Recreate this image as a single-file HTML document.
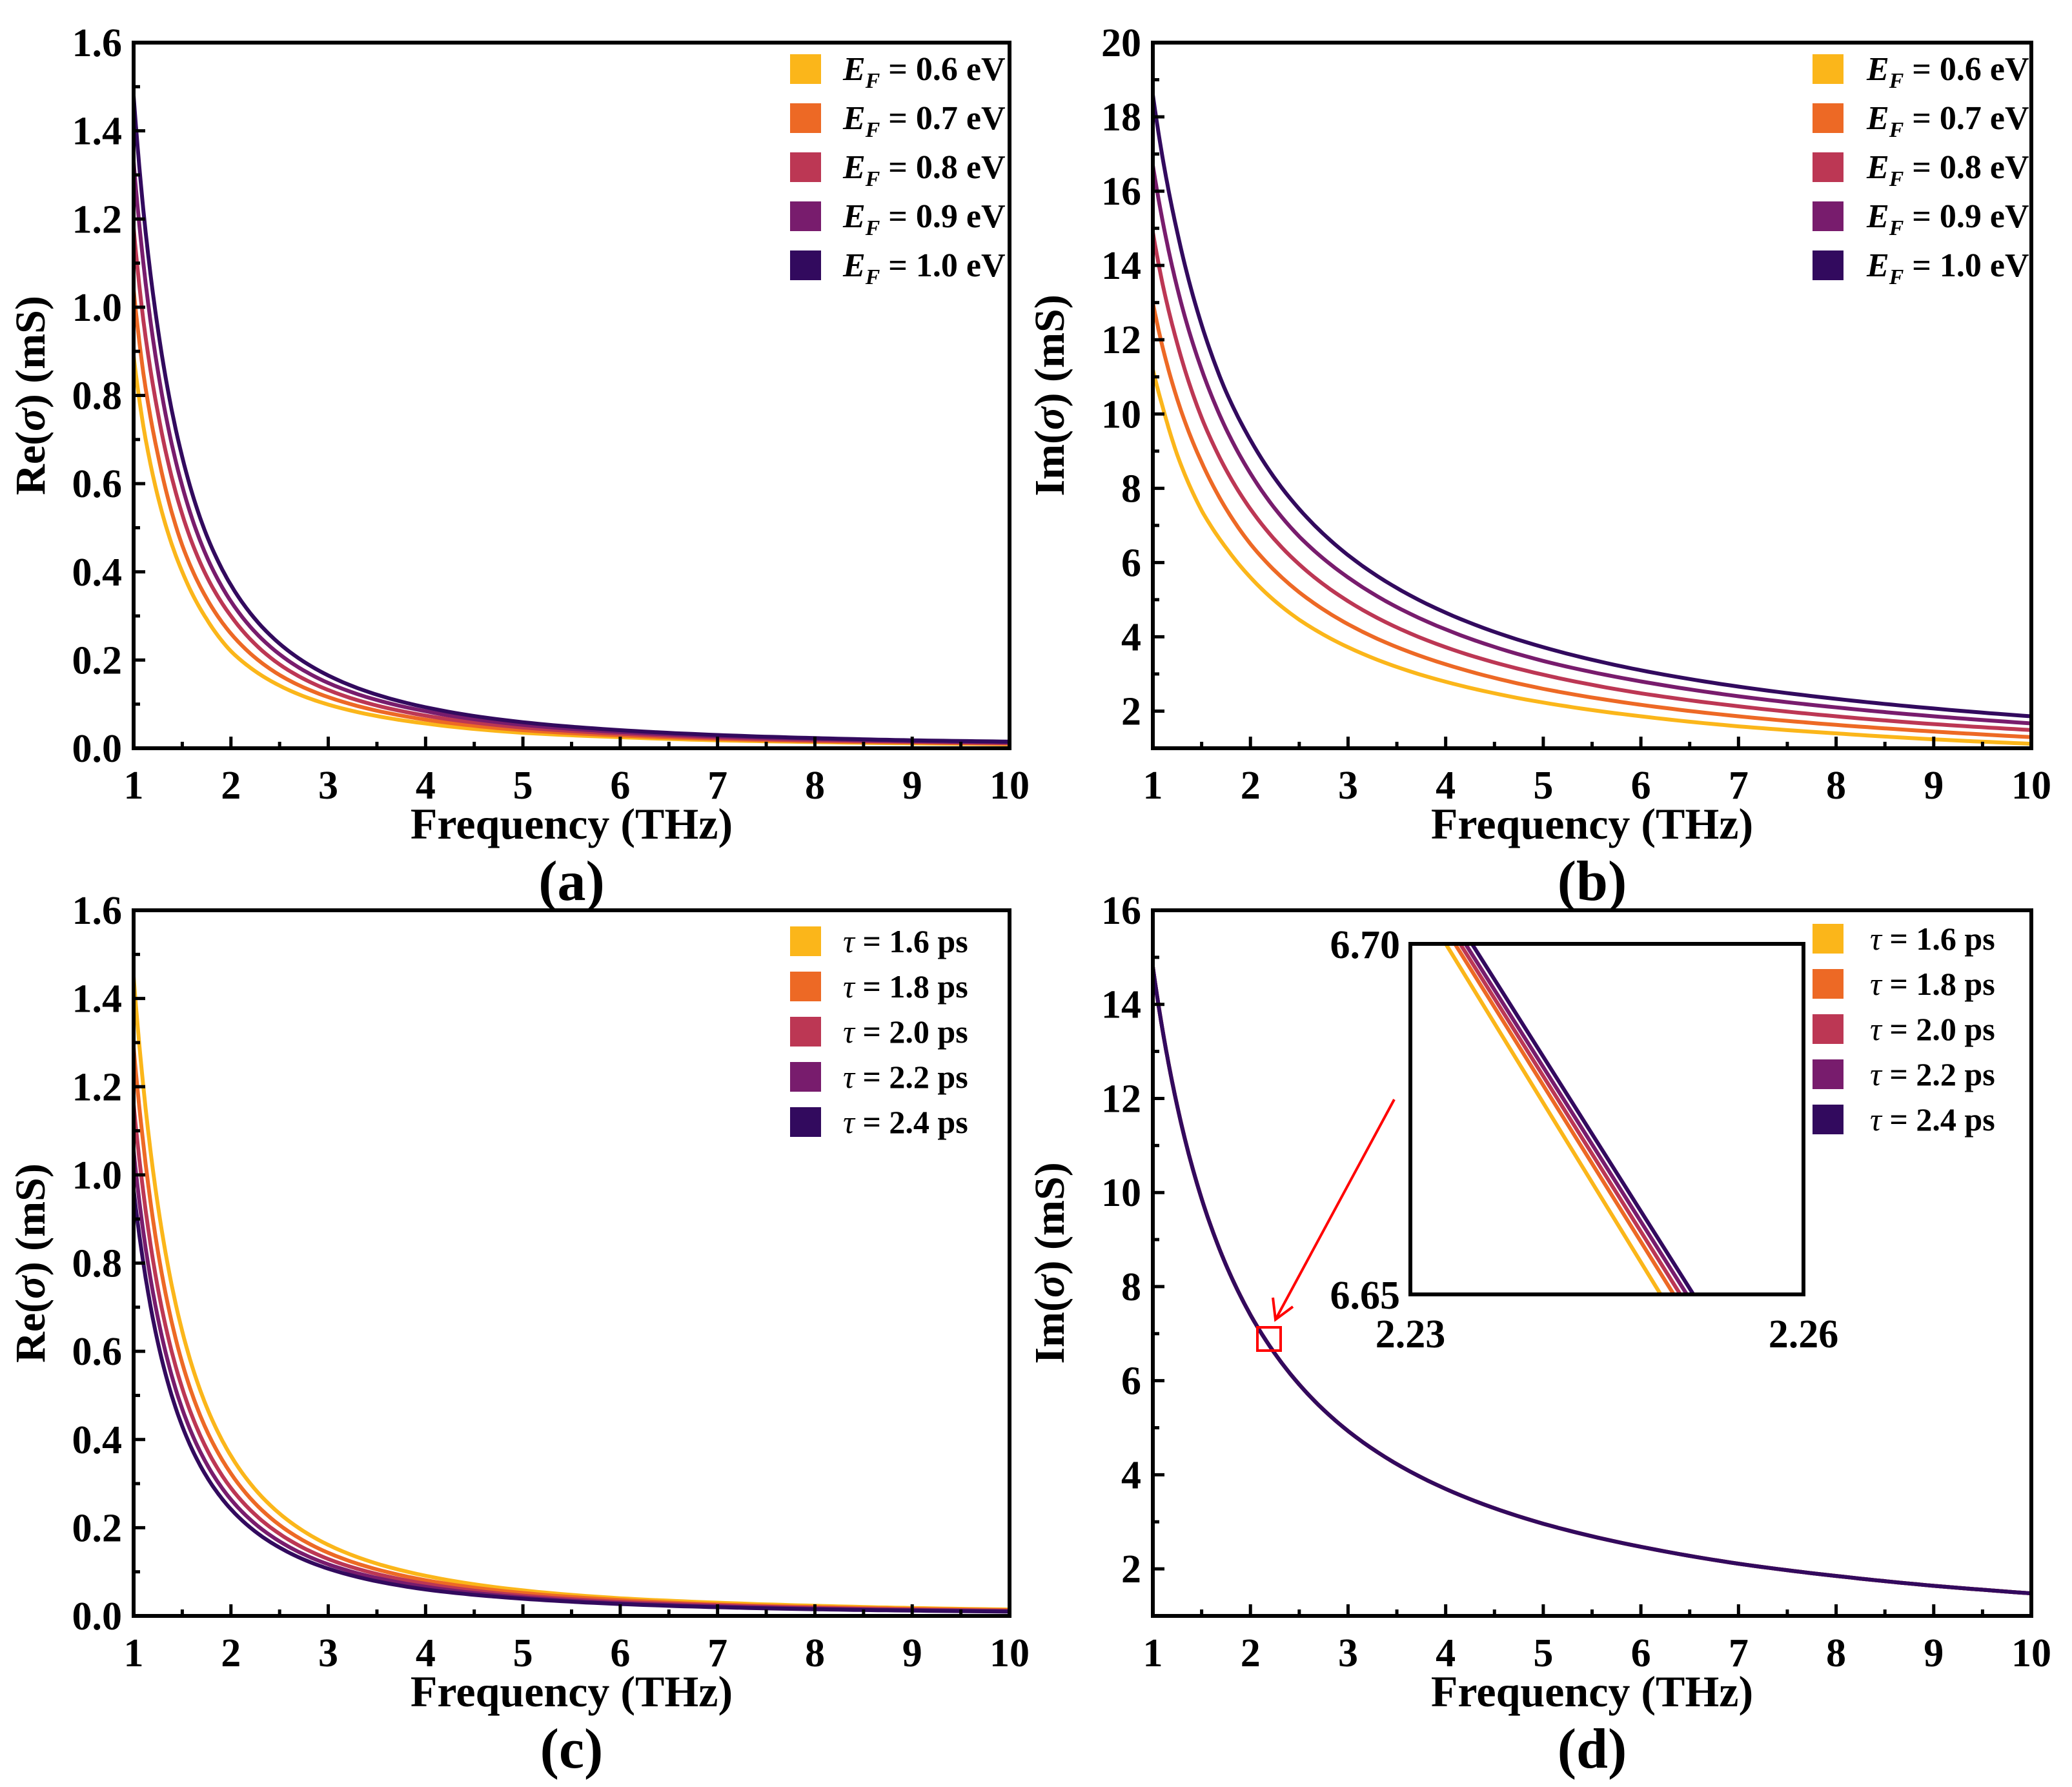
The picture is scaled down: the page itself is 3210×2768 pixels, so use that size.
<!DOCTYPE html>
<html><head><meta charset="utf-8"><style>
html,body{margin:0;padding:0;background:#fff}
svg{display:block;font-family:"Liberation Serif",serif;font-weight:bold}
</style></head><body>
<svg id="fig" width="3210" height="2768" viewBox="0 0 3210 2768" xmlns="http://www.w3.org/2000/svg"></svg>
<script>
const colors=['#FBB61A','#ED6925','#BC3754','#781C6D','#320A5E'];
const freq=[1,1.1,1.25,1.5,1.75,2,2.5,3,4,5,6,7,8,9,10];
const xTickLabels=['1','2','3','4','5','6','7','8','9','10'];
const efLabels=['0.6','0.7','0.8','0.9','1.0'];
const tauLabels=['1.6','1.8','2.0','2.2','2.4'];
const reEF06=[0.89,0.73,0.57,0.40,0.293,0.22,0.142,0.099,0.056,0.035,0.025,0.018,0.014,0.011,0.009];
const reEF07=[1.04,0.85,0.665,0.46,0.34,0.26,0.166,0.116,0.065,0.041,0.029,0.021,0.016,0.013,0.010];
const reEF08=[1.18,0.97,0.76,0.53,0.39,0.30,0.19,0.132,0.074,0.047,0.033,0.024,0.018,0.015,0.012];
const reEF09=[1.33,1.10,0.855,0.594,0.435,0.333,0.213,0.148,0.084,0.053,0.037,0.027,0.021,0.016,0.013];
const reEF10=[1.48,1.22,0.95,0.66,0.483,0.37,0.237,0.165,0.093,0.059,0.041,0.030,0.023,0.018,0.015];
const imEF06=[11.2,10.2,8.9,7.4,6.4,5.6,4.46,3.72,2.79,2.23,1.86,1.59,1.40,1.24,1.12];
const imEF07=[13.0,11.8,10.4,8.7,7.45,6.5,5.2,4.34,3.26,2.6,2.17,1.86,1.63,1.45,1.30];
const imEF08=[14.9,13.5,11.9,9.9,8.5,7.44,5.95,4.96,3.72,2.98,2.48,2.13,1.86,1.65,1.49];
const imEF09=[16.7,15.2,13.4,11.2,9.6,8.4,6.7,5.6,4.2,3.35,2.8,2.4,2.1,1.86,1.67];
const imEF10=[18.6,16.9,14.9,12.4,10.6,9.3,7.44,6.2,4.65,3.72,3.1,2.66,2.33,2.07,1.86];
const reTau16=[1.45,1.20,0.93,0.645,0.474,0.363,0.232,0.161,0.091,0.058,0.040,0.030,0.023,0.018,0.0145];
const reTau18=[1.29,1.07,0.826,0.573,0.421,0.323,0.206,0.143,0.081,0.052,0.036,0.026,0.020,0.016,0.0129];
const reTau20=[1.16,0.96,0.742,0.516,0.379,0.29,0.186,0.129,0.073,0.046,0.032,0.024,0.018,0.014,0.0116];
const reTau22=[1.055,0.87,0.675,0.469,0.345,0.264,0.169,0.117,0.066,0.042,0.029,0.0215,0.0165,0.013,0.0106];
const reTau24=[0.967,0.80,0.619,0.43,0.316,0.242,0.155,0.107,0.060,0.039,0.027,0.0197,0.015,0.012,0.0097];
const imTauAll=[14.8,13.45,11.84,9.87,8.46,7.4,5.92,4.93,3.7,2.96,2.47,2.11,1.85,1.64,1.48];
const insetXTop=[2.2327,2.2334,2.2338,2.2342,2.2347];
const insetXBottom=[2.2491,2.2501,2.2506,2.2511,2.2516];

const NS='http://www.w3.org/2000/svg';
const svg=document.getElementById('fig');
function mk(tag,attrs,parent){const e=document.createElementNS(NS,tag);for(const k in attrs)e.setAttribute(k,attrs[k]);(parent||svg).appendChild(e);return e;}
// log-log interpolation between data points gives smooth power-law segments
function curvePath(xs,ys,sx,sy){let d='';
 for(let i=0;i<xs.length-1;i++){const lx0=Math.log(xs[i]),lx1=Math.log(xs[i+1]),ly0=Math.log(ys[i]),ly1=Math.log(ys[i+1]);
  for(let k=(i===0?0:1);k<=12;k++){const t=k/12;const x=Math.exp(lx0+(lx1-lx0)*t),y=Math.exp(ly0+(ly1-ly0)*t);
   d+=(d?' L':'M')+sx(x).toFixed(1)+','+sy(y).toFixed(1);}}
 return d;}

function panel(cfg){
 const g=mk('g',{});
 
 
 const {L,R,T,B,ymin,ymax}=cfg;
 const sx=v=>L+(v-1)/9*(R-L), sy=v=>B-(v-ymin)/(ymax-ymin)*(B-T);
 const cid='clip-'+cfg.name;
 const cp=mk('clipPath',{id:cid},g);mk('rect',{x:L,y:T,width:R-L,height:B-T},cp);
 const cg=mk('g',{'clip-path':'url(#'+cid+')'},g);
 cfg.series.forEach((s,i)=>{
  const p=mk('path',{d:curvePath(freq,s,sx,sy),fill:'none',stroke:colors[i],'stroke-width':6,'stroke-linejoin':'round'},cg);
  
  
 });
 const tg=mk('g',{stroke:'#000','stroke-width':5},g);
 for(let v=1;v<=10.001;v+=0.5){const major=Math.abs(v-Math.round(v))<1e-6;mk('line',{x1:sx(v),x2:sx(v),y1:B,y2:B-(major?18:10)},tg);}
 for(let k=0;;k++){const v=ymin+k*cfg.minor; if(v>ymax+1e-9)break; const major=Math.abs(((v-cfg.ystart)/cfg.ystep)-Math.round((v-cfg.ystart)/cfg.ystep))<1e-6; mk('line',{x1:L,x2:L+(major?18:10),y1:sy(v),y2:sy(v)},tg);}
 const ax=mk('rect',{x:L,y:T,width:R-L,height:B-T,fill:'none',stroke:'#000','stroke-width':6},g);
 
 
 xTickLabels.forEach((t,i)=>{const e=mk('text',{x:sx(i+1),y:B+78,'font-size':62,'text-anchor':'middle'},g);e.textContent=t;
  
  });
 cfg.yTicks.forEach(t=>{const e=mk('text',{x:L-18,y:sy(parseFloat(t))+21,'font-size':62,'text-anchor':'end'},g);e.textContent=t;
  
  });
 const xt=mk('text',{x:(L+R)/2,y:B+140,'font-size':68,'text-anchor':'middle'},g);xt.textContent='Frequency (THz)';
 
 
 const yt=mk('text',{x:0,y:0,'font-size':66,'text-anchor':'middle',transform:'translate('+(L-138)+','+((T+B)/2)+') rotate(-90)'},g);
 
 
 yt.innerHTML=cfg.yTitle+'(<tspan font-style="italic">σ</tspan>) (mS)';
 const pl=mk('text',{x:(L+R)/2,y:B+235,'font-size':88,'text-anchor':'middle'},g);pl.textContent=cfg.label;
 
 
 cfg.legend.labels.forEach((lab,i)=>{
  const y=cfg.legend.y+i*cfg.legend.step;
  const r=mk('rect',{x:cfg.legend.x,y:y,width:48,height:46,fill:colors[i]},g);
  
  
  const t=mk('text',{x:cfg.legend.tx,y:y+40,'font-size':cfg.legend.fs},g);
  
  
  if(cfg.legend.type==='ef') t.innerHTML='<tspan font-style="italic">E</tspan><tspan font-style="italic" font-size="'+(cfg.legend.fs*0.65)+'" dy="12">F</tspan><tspan dy="-12"> = '+lab+' eV</tspan>';
  else t.innerHTML='<tspan font-style="italic" font-weight="normal">τ</tspan> = '+lab+' ps';
 });
 return {sx,sy,g};
}
const yA=['0.0','0.2','0.4','0.6','0.8','1.0','1.2','1.4','1.6'];
panel({name:'panel-a',L:207,R:1564,T:66,B:1159,ymin:0,ymax:1.6,minor:0.1,ystart:0,ystep:0.2,yTicks:yA,yTitle:'Re',label:'(a)',
 series:[reEF06,reEF07,reEF08,reEF09,reEF10],legend:{type:'ef',labels:efLabels,x:1224,y:84,step:76,tx:1306,fs:52}});
panel({name:'panel-b',L:1786,R:3147,T:66,B:1159,ymin:1,ymax:20,minor:1,ystart:2,ystep:2,yTicks:['2','4','6','8','10','12','14','16','18','20'],yTitle:'Im',label:'(b)',
 series:[imEF06,imEF07,imEF08,imEF09,imEF10],legend:{type:'ef',labels:efLabels,x:2808,y:84,step:76,tx:2892,fs:52}});
panel({name:'panel-c',L:207,R:1564,T:1410,B:2503,ymin:0,ymax:1.6,minor:0.1,ystart:0,ystep:0.2,yTicks:yA,yTitle:'Re',label:'(c)',
 series:[reTau16,reTau18,reTau20,reTau22,reTau24],legend:{type:'tau',labels:tauLabels,x:1224,y:1435,step:70,tx:1306,fs:50}});
panel({name:'panel-d',L:1786,R:3147,T:1410,B:2503,ymin:1,ymax:16,minor:1,ystart:2,ystep:2,yTicks:['2','4','6','8','10','12','14','16'],yTitle:'Im',label:'(d)',
 series:[imTauAll,imTauAll,imTauAll,imTauAll,imTauAll],legend:{type:'tau',labels:tauLabels,x:2808,y:1431,step:70,tx:2897,fs:50}});
const IL=2185,IR=2794,IT=1462,IB=2005;
const ix=v=>IL+(v-2.23)/0.03*(IR-IL), iy=v=>IB-(v-6.65)/0.05*(IB-IT);
const ig=mk('g',{});


mk('rect',{x:IL,y:IT,width:IR-IL,height:IB-IT,fill:'#fff'},ig);
const icp=mk('clipPath',{id:'insclip'},ig);
mk('rect',{x:IL,y:IT,width:IR-IL,height:IB-IT},icp);
const icg=mk('g',{'clip-path':'url(#insclip)'},ig);
insetXTop.forEach((xt,i)=>{const l=mk('line',{x1:ix(xt),y1:iy(6.70),x2:ix(insetXBottom[i]),y2:iy(6.65),stroke:colors[i],'stroke-width':6},icg);
 
 });
mk('rect',{x:IL,y:IT,width:IR-IL,height:IB-IT,fill:'none',stroke:'#000','stroke-width':6},ig);
[['6.70',IL-16,IT+22,'end'],['6.65',IL-16,IB+22,'end'],['2.23',IL,IB+82,'middle'],['2.26',IR,IB+82,'middle']].forEach(a=>{
 const t=mk('text',{x:a[1],y:a[2],'font-size':62,'text-anchor':a[3]},ig);t.textContent=a[0];
 
 });
const zb=mk('rect',{x:1948,y:2056,width:36,height:36,fill:'none',stroke:'#f00','stroke-width':4});


const ar=mk('g',{stroke:'#f00','stroke-width':4,fill:'none'});


mk('line',{x1:2160,y1:1703,x2:1976,y2:2044},ar);
mk('polyline',{points:'1972,2010 1976,2044 2003,2024'},ar);
</script>
</body></html>
